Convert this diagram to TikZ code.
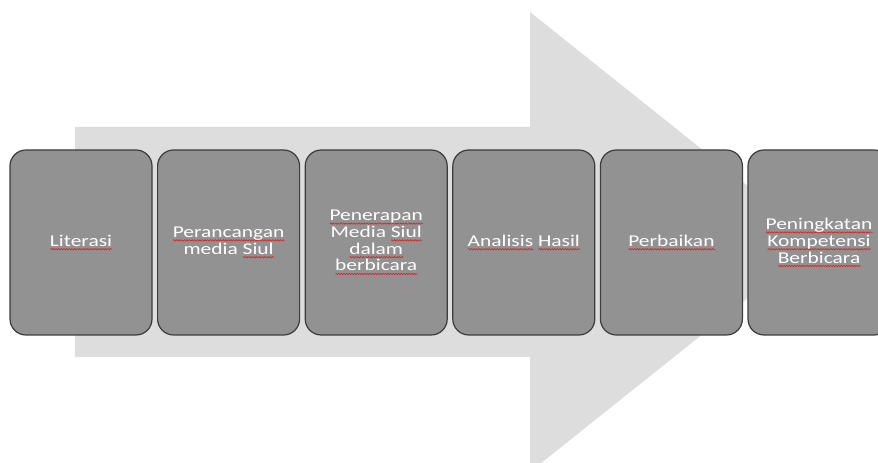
\documentclass[tikz,border=0pt]{standalone}
\usepackage{fontspec}
\setsansfont{Carlito}[FakeStretch=1.3]
\usepackage{tikz}
\usetikzlibrary{positioning, decorations.pathmorphing}
\definecolor{FlowArrow}{HTML}{DDDDDD}
\definecolor{StepFill}{HTML}{929292}
\definecolor{StepLine}{HTML}{3C3C3C}
\definecolor{SpellRed}{HTML}{E02020}
% wavy spell-check underline
\newlength{\sqwd}
\newcommand{\sq}[1]{\settowidth{\sqwd}{#1}\leavevmode\rlap{\tikz[baseline=0pt]
  \draw[SpellRed, line width=0.6pt, sharp corners, decorate,
    decoration={snake, amplitude=0.7pt, segment length=2.6pt}] (0pt,-3pt) -- (\sqwd,-3pt);}#1}

\begin{document}
\begin{tikzpicture}[x=1pt, y=1pt,
  stepbox/.style={draw=StepLine, line width=1.2pt, fill=StepFill, rounded corners=16pt,
    minimum width=142pt, minimum height=185pt, inner sep=0pt,
    text=white, align=center, font=\sffamily\fontsize{16.5}{16.8}\selectfont}]
  \useasboundingbox (0,0) rectangle (878,463);
  % big background arrow
  \fill[FlowArrow] (75,336) -- (530,336) -- (530,451) -- (818,221)
    -- (530,-9) -- (530,106) -- (75,106) -- cycle;
  \foreach \c/\lbl in {
    1/{\sq{Literasi}},
    2/{\sq{Perancangan}\\media \sq{Siul}},
    3/{\sq{Penerapan}\\Media \sq{Siul}\\\sq{dalam}\\\sq{berbicara}},
    4/{\sq{Analisis} \sq{Hasil}},
    5/{\sq{Perbaikan}},
    6/{\sq{Peningkatan}\\\sq{Kompetensi}\\\sq{Berbicara}}}{
    \pgfmathsetmacro{\xpos}{81+(\c-1)*147.6}
    \node[stepbox] (step\c) at (\xpos,220.5) {\lbl};
  }
\end{tikzpicture}
\end{document}
